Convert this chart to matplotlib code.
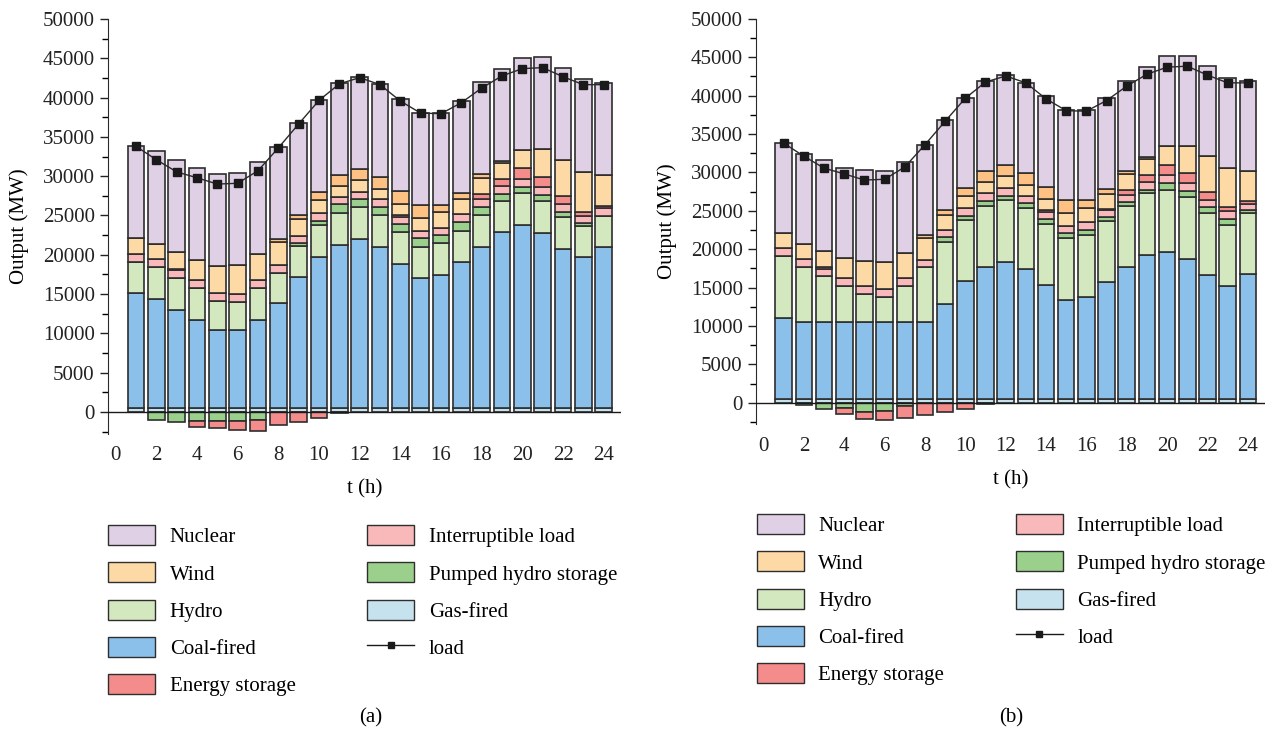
import numpy as np
import matplotlib.pyplot as plt
from matplotlib.patches import Patch
from matplotlib.lines import Line2D
from matplotlib.ticker import MultipleLocator

plt.rcParams.update({
    "font.family": ["Liberation Serif", "DejaVu Serif"],
    "font.size": 15,
})

hours = np.arange(1, 25)

# hourly load (MW), same demand in both cases
load = [33800, 32100, 30550, 29800, 29000, 29100, 30700, 33600, 36650, 39650, 41750, 42550,
        41650, 39570, 38030, 37960, 39350, 41220, 42770, 43690, 43820, 42660, 41650, 41650]

# ---- case (a) ----
gas_a = [500] * 24
coal_a = [14590, 13870, 12470, 11200, 9930, 9930, 11200, 13320, 16710, 19260, 20740, 21510,
          20530, 18330, 16500, 16930, 18540, 20530, 22360, 23290, 22230, 20230, 19180, 20450]
hydro_a = [4030, 4030, 4030, 4070, 3730, 3600, 4030, 3800, 3950, 4030, 4030, 4020,
           4030, 4030, 4030, 4020, 4020, 4030, 4020, 4030, 4110, 4030, 3980, 4020]
pumped_a = [0, 0, 0, 0, 0, 0, 0, 100, 290, 550, 1190, 1020,
            970, 1050, 1060, 1060, 1070, 1060, 850, 840, 760, 720, 340, 0]
inter_a = [980, 1020, 1000, 1020, 1020, 980, 1020, 1000, 940, 1010, 930, 980,
           1020, 930, 970, 940, 1020, 970, 1060, 940, 1060, 980, 970, 980]
storage_a = [0, 0, 150, 0, 0, 0, 0, 0, 0, 0, 0, 0,
             0, 200, 0, 0, 100, 600, 810, 1400, 1270, 1060, 510, 300]
wind_a = [1990, 1990, 2160, 2540, 3390, 3640, 3300, 2890, 2120, 1620, 1360, 1480,
          1320, 1480, 1660, 1950, 1910, 2030, 2035, 2330, 3480, 4530, 5090, 3900]
wind2_a = [0, 0, 0, 0, 0, 0, 0, 420, 550, 970, 1400, 1360,
           1560, 1610, 1610, 930, 720, 510, 300, 0, 0, 0, 0, 0]
nuclear_a = [11750] * 24
pumped_neg_a = [0, -1020, -1230, -1145, -1145, -1145, -1020, 0, 0, 0, 0, 0,
                0, 0, 0, 0, 0, 0, 0, 0, 0, 0, 0, 0]
storage_neg_a = [0, 0, 0, -720, -850, -1145, -1400, -1600, -1230, -720, -100, 0,
                 0, 0, 0, 0, 0, 0, 0, 0, 0, 0, 0, 0]

# ---- case (b) ----
gas_b = [500] * 24
coal_b = [10610, 10000, 10000, 10000, 10000, 10000, 10000, 10000, 12390, 15300, 17160, 17820,
          16900, 14780, 12910, 13340, 15170, 17160, 18770, 19200, 18250, 16170, 14650, 16250]
hydro_b = [8030, 7160, 5950, 4730, 3690, 3340, 4730, 7120, 8030, 7940, 7990, 8020,
           7950, 7980, 8030, 7950, 7940, 7990, 8030, 8030, 8030, 8020, 8030, 7990]
pumped_b = [0, 0, 0, 0, 0, 0, 0, 0, 650, 610, 650, 610,
            650, 660, 650, 730, 520, 480, 430, 870, 820, 790, 780, 300]
inter_b = [1000, 1050, 1000, 1000, 1040, 1000, 1000, 1000, 950, 1000, 1000, 1000,
           990, 950, 960, 960, 1000, 950, 1000, 1000, 1000, 950, 950, 870]
storage_b = [0, 0, 250, 0, 0, 0, 0, 0, 0, 0, 0, 0,
             0, 250, 0, 0, 100, 570, 870, 1390, 1300, 1080, 570, 300]
wind_b = [1950, 1990, 2130, 2600, 3300, 3560, 3340, 2820, 1960, 1600, 1430, 1520,
          1310, 1390, 1640, 1870, 2010, 2120, 2130, 2380, 3470, 4560, 5070, 3910]
wind2_b = [0, 0, 0, 0, 0, 0, 0, 430, 650, 1000, 1390, 1430,
           1600, 1650, 1650, 990, 650, 350, 260, 0, 0, 0, 0, 0]
nuclear_b = [11750] * 24
pumped_neg_b = [0, -300, -740, -610, -1170, -1000, -430, 0, 0, 0, 0, 0,
                0, 0, 0, 0, 0, 0, 0, 0, 0, 0, 0, 0]
storage_neg_b = [0, 0, 0, -820, -870, -1170, -1600, -1520, -1170, -780, -100, 0,
                 0, 0, 0, 0, 0, 0, 0, 0, 0, 0, 0, 0]

colors = {
    "gas": "#c7e2ef",
    "coal": "#8ac0e9",
    "hydro": "#d4e8bf",
    "pumped": "#9bd08c",
    "inter": "#f9b9bb",
    "storage": "#f48c8c",
    "wind": "#fdd9a5",
    "wind2": "#fdc183",
    "nuclear": "#dfd0e5",
}
EDGE = "#2e2e2e"
BAR_W = 0.82


def draw_panel(ax, pos, neg, load_vals):
    bottom = np.zeros(24)
    for key, vals in pos:
        v = np.asarray(vals, dtype=float)
        ax.bar(hours, v, BAR_W, bottom=bottom, color=colors[key],
               edgecolor=EDGE, linewidth=1.2, zorder=2)
        bottom += v
    nbottom = np.zeros(24)
    for key, vals in neg:
        v = np.asarray(vals, dtype=float)
        mask = v < 0
        ax.bar(hours[mask], v[mask], BAR_W, bottom=nbottom[mask], color=colors[key],
               edgecolor=EDGE, linewidth=1.2, zorder=2)
        nbottom += v

    ax.plot(hours, load_vals, color="#2a2a2a", linewidth=1.0, marker="s",
            markersize=5.5, markerfacecolor="#1a1a1a", markeredgecolor="#1a1a1a", zorder=4)
    ax.axhline(0, color="#1a1a1a", linewidth=1.0, zorder=3)

    ax.set_xlim(-0.38, 24.85)
    ax.set_ylim(-2800, 50000)
    ax.set_xticks(np.arange(0, 25, 2))
    ax.yaxis.set_major_locator(MultipleLocator(5000))
    ax.yaxis.set_minor_locator(MultipleLocator(2500))
    ax.spines["top"].set_visible(False)
    ax.spines["right"].set_visible(False)
    ax.spines["bottom"].set_visible(False)
    ax.spines["left"].set_color("#2a2a2a")
    ax.spines["left"].set_bounds(-2800, 50000)
    ax.tick_params(axis="x", length=0, pad=9, labelsize=15, colors="#222222")
    ax.tick_params(axis="y", which="major", length=6, width=1.0, direction="out",
                   labelsize=15, colors="#222222")
    ax.tick_params(axis="y", which="minor", length=4, width=1.0, direction="out")
    ax.set_xlabel("t (h)", fontsize=15, labelpad=10)
    ax.set_ylabel("Output (MW)", fontsize=15, labelpad=10)


fig = plt.figure(figsize=(12.79, 7.33), dpi=100)
ax_a = fig.add_axes([0.0844, 0.408, 0.4011, 0.566])
ax_b = fig.add_axes([0.591, 0.421, 0.398, 0.5535])

draw_panel(ax_a,
           [("gas", gas_a), ("coal", coal_a), ("hydro", hydro_a), ("pumped", pumped_a),
            ("inter", inter_a), ("storage", storage_a), ("wind", wind_a),
            ("wind2", wind2_a), ("nuclear", nuclear_a)],
           [("pumped", pumped_neg_a), ("storage", storage_neg_a)], load)
draw_panel(ax_b,
           [("gas", gas_b), ("coal", coal_b), ("hydro", hydro_b), ("pumped", pumped_b),
            ("inter", inter_b), ("storage", storage_b), ("wind", wind_b),
            ("wind2", wind2_b), ("nuclear", nuclear_b)],
           [("pumped", pumped_neg_b), ("storage", storage_neg_b)], load)

legend_items = [
    ("Nuclear", "nuclear"), ("Wind", "wind"), ("Hydro", "hydro"),
    ("Coal-fired", "coal"), ("Energy storage", "storage"),
    ("Interruptible load", "inter"), ("Pumped hydro storage", "pumped"),
    ("Gas-fired", "gas"),
]
handles = [Patch(facecolor=colors[k], edgecolor=EDGE, linewidth=1.0, label=lab)
           for lab, k in legend_items]
handles.append(Line2D([], [], color="#1a1a1a", linewidth=1.0, marker="s",
                      markersize=5, label="load"))

for anchor in [(0.0765, 0.2975), (0.5835, 0.3125)]:
    fig.legend(handles=handles, loc="upper left", bbox_to_anchor=anchor,
               ncol=2, frameon=False, fontsize=15, handlelength=2.25,
               handleheight=1.1, handletextpad=0.7, labelspacing=0.72,
               columnspacing=3.45, borderpad=0)

fig.text(0.290, 0.02, "(a)", ha="center", va="center", fontsize=15)
fig.text(0.7905, 0.02, "(b)", ha="center", va="center", fontsize=15)

fig.savefig("out.png", dpi=100)
